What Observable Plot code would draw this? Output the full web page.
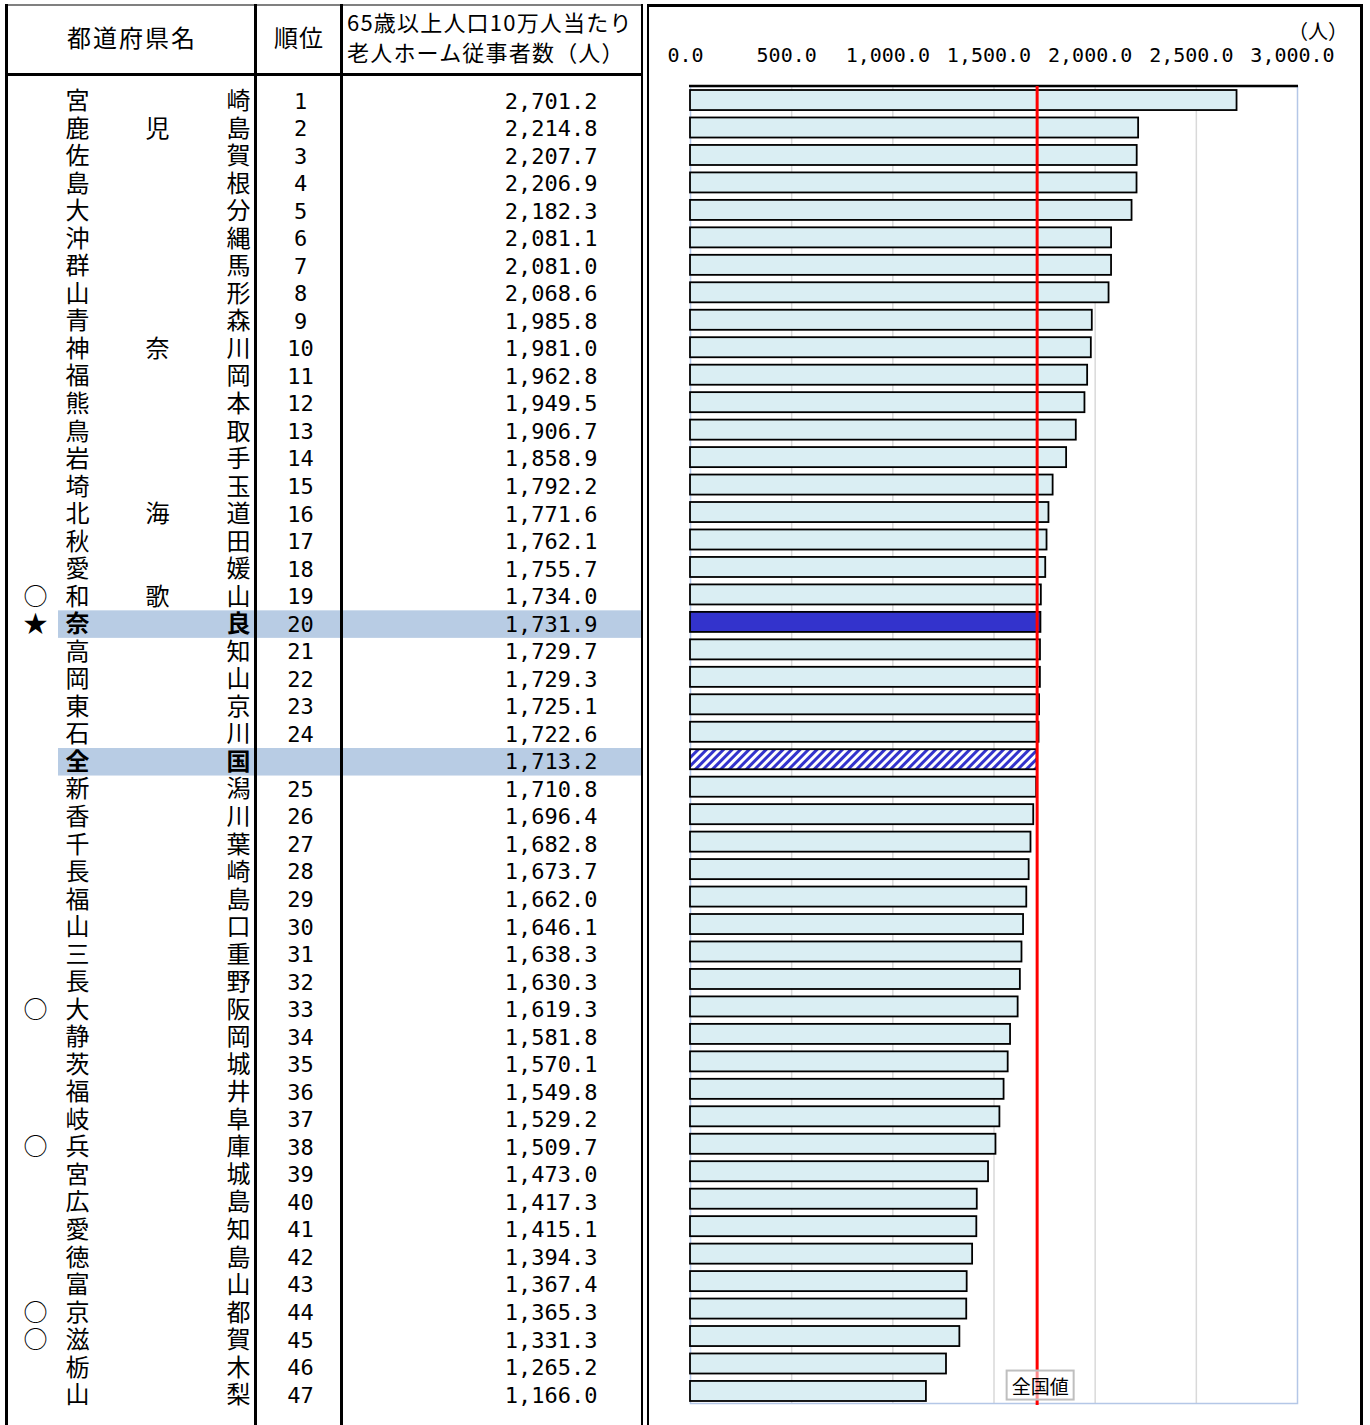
<!DOCTYPE html>
<html><head><meta charset="utf-8">
<script src="https://cdn.jsdelivr.net/npm/d3@7"></script>
<script src="https://cdn.jsdelivr.net/npm/@observablehq/plot@0.6"></script>
<style>
body{margin:0;background:#fff;}
#wrap{position:relative;width:1370px;height:1425px;overflow:hidden;font-family:"Noto Sans CJK JP",sans-serif;color:#000;}
#wrap > svg, #wrap > div{position:absolute;}
.ln{background:#000;z-index:5;}
.hd{line-height:1;white-space:nowrap;z-index:6;}
</style></head><body><div id="wrap"></div>
<script>
// ---- data ----
const prefectures = ["宮崎","鹿児島","佐賀","島根","大分","沖縄","群馬","山形","青森","神奈川","福岡","熊本","鳥取","岩手","埼玉","北海道","秋田","愛媛","和歌山","奈良","高知","岡山","東京","石川","全国","新潟","香川","千葉","長崎","福島","山口","三重","長野","大阪","静岡","茨城","福井","岐阜","兵庫","宮城","広島","愛知","徳島","富山","京都","滋賀","栃木","山梨"];
const values = [2701.2,2214.8,2207.7,2206.9,2182.3,2081.1,2081.0,2068.6,1985.8,1981.0,1962.8,1949.5,1906.7,1858.9,1792.2,1771.6,1762.1,1755.7,1734.0,1731.9,1729.7,1729.3,1725.1,1722.6,1713.2,1710.8,1696.4,1682.8,1673.7,1662.0,1646.1,1638.3,1630.3,1619.3,1581.8,1570.1,1549.8,1529.2,1509.7,1473.0,1417.3,1415.1,1394.3,1367.4,1365.3,1331.3,1265.2,1166.0];
const ranks = [1,2,3,4,5,6,7,8,9,10,11,12,13,14,15,16,17,18,19,20,21,22,23,24,null,25,26,27,28,29,30,31,32,33,34,35,36,37,38,39,40,41,42,43,44,45,46,47];
const symbols = ["","","","","","","","","","","","","","","","","","","○","★","","","","","","","","","","","","","","○","","","","","○","","","","","","○","○","",""];
const xTicks = [0,500,1000,1500,2000,2500,3000];
const gridTicks = [500,1000,1500,2000,2500];
const focusName = "奈良";
const nationalName = "全国";
const nationalLabel = "全国値";

// ---- layout (pixel positions of table columns) ----
const colX = {sym:35, c1:77, c2:157, c3:238, rank:300, val:597, hlL:58, hlR:642};
const fmt = d3.format(",.1f");
const JP = '"Noto Sans CJK JP", sans-serif';
const MONO = '"DejaVu Sans Mono", monospace';

const rows = prefectures.map((name, i) => ({name, value: values[i], rank: ranks[i], symbol: symbols[i]}));
const isSpecial = r => r.name === focusName || r.name === nationalName;
const charRows = rows.flatMap(r => {
  const ch = [...r.name];
  const cols = ch.length === 3 ? ["c1","c2","c3"] : ["c1","c3"];
  return ch.map((c, j) => ({name: r.name, char: c, col: cols[j], bold: isSpecial(r)}));
});

const wrap = document.getElementById("wrap");

// ---- table ----
const table = Plot.plot({
  width: 642, height: 1425, margin: 0,
  x: {type: "identity", axis: null},
  y: {type: "band", domain: prefectures, range: [87.2, 1408.8], padding: 0, round: false, axis: null},
  style: {background: "transparent", fontFamily: JP, overflow: "visible"},
  marks: [
    Plot.barX(rows.filter(isSpecial), {x1: () => colX.hlL, x2: () => colX.hlR, y: "name", fill: "#b8cce4"}),
    Plot.text(charRows.filter(d => !d.bold), {x: d => colX[d.col], y: "name", text: "char", fontSize: 24, fontFamily: JP, fill: "#000"}),
    Plot.text(charRows.filter(d => d.bold), {x: d => colX[d.col], y: "name", text: "char", fontSize: 24, fontFamily: JP, fontWeight: "bold", fill: "#000"}),
    Plot.text(rows.filter(r => r.symbol), {x: () => colX.sym, y: "name", text: "symbol", fontSize: 24, fontFamily: JP, fill: "#000"}),
    Plot.text(rows.filter(r => r.rank != null), {x: () => colX.rank, y: "name", text: d => String(d.rank), fontSize: 22, fontFamily: MONO, fill: "#000"}),
    Plot.text(rows, {x: () => colX.val, y: "name", text: d => fmt(d.value), textAnchor: "end", fontSize: 22, fontFamily: MONO, fill: "#000"})
  ]
});
table.style.left = "0px"; table.style.top = "0px";
wrap.appendChild(table);

// ---- bar chart ----
const national = rows.find(r => r.name === nationalName);
const lastName = prefectures[prefectures.length - 1];
function extras(index, scales, values, dims) {
  const ns = "http://www.w3.org/2000/svg";
  const g = document.createElementNS(ns, "g");
  g.innerHTML = `<defs><pattern id="hatch" patternUnits="userSpaceOnUse" width="6" height="6" patternTransform="rotate(45)"><rect width="6" height="6" fill="#fff"/><rect width="3" height="6" fill="#3333cc"/></pattern></defs>`;
  const l = document.createElementNS(ns, "line");
  l.setAttribute("x1", scales.x(xTicks[0]) - 1);
  l.setAttribute("x2", scales.x(xTicks[xTicks.length - 1]) + 1);
  l.setAttribute("y1", dims.marginTop);
  l.setAttribute("y2", dims.marginTop);
  l.setAttribute("stroke", "#000");
  l.setAttribute("stroke-width", 2.5);
  g.appendChild(l);
  return g;
}
const chart = Plot.plot({
  width: 714, height: 1425, marginLeft: 42, marginRight: 65, marginTop: 86, marginBottom: 22,
  x: {domain: [0, 3000], axis: null},
  y: {type: "band", domain: prefectures, range: [86.3, 1404.7], paddingInner: 0.27, paddingOuter: 0.135, round: false, axis: null},
  style: {background: "transparent", fontFamily: JP, overflow: "visible"},
  marks: [
    Plot.ruleX(gridTicks, {stroke: "#d9d9d9", strokeWidth: 1.5}),
    Plot.frame({stroke: "#b4c7e7", strokeWidth: 1.5}),
    Plot.axisX(xTicks, {anchor: "top", tickSize: 0, tickPadding: 25, tickFormat: fmt, fontSize: 20, fontFamily: MONO, fill: "#000", dx: -5, label: null}),
    extras,
    Plot.barX(rows.filter(r => !isSpecial(r)), {x: "value", y: "name", fill: "#daeef3", stroke: "#000", strokeWidth: 1.8}),
    Plot.barX(rows.filter(r => r.name === focusName), {x: "value", y: "name", fill: "#3333cc", stroke: "#000", strokeWidth: 1.8}),
    Plot.barX(rows.filter(r => r.name === nationalName), {x: "value", y: "name", fill: "url(#hatch)", stroke: "#000", strokeWidth: 1.8}),
    Plot.ruleX([national], {x: "value", stroke: "#ff0000", strokeWidth: 3, insetBottom: -2}),
    Plot.text([national], {x: "value", y: () => lastName, text: () => nationalLabel, dx: 3, dy: -4, fontSize: 19, fontFamily: JP, fill: "#000"})
  ]
});
chart.style.left = "648px"; chart.style.top = "0px";
wrap.appendChild(chart);
// box behind the national label
for (const t of chart.querySelectorAll("text")) {
  if (t.textContent === nationalLabel) {
    const b = t.getBBox();
    const r = document.createElementNS("http://www.w3.org/2000/svg", "rect");
    r.setAttribute("x", b.x - 5); r.setAttribute("y", b.y - 1);
    r.setAttribute("width", b.width + 10); r.setAttribute("height", b.height + 2);
    const tr = t.getAttribute("transform");
    if (tr) r.setAttribute("transform", tr);
    r.setAttribute("fill", "rgba(255,255,255,0.55)");
    r.setAttribute("stroke", "#bfbfbf"); r.setAttribute("stroke-width", 2);
    t.parentNode.insertBefore(r, t);
  }
}

// ---- frame lines & header (HTML) ----
function line(l, t, w, h, c) {
  const d = document.createElement("div");
  d.className = "ln";
  Object.assign(d.style, {left: l + "px", top: t + "px", width: w + "px", height: h + "px"});
  if (c) d.style.background = c;
  wrap.appendChild(d);
}
line(5, 4, 638, 2, "#808080");
line(647, 4, 716, 3);
line(5, 4, 3, 1421);
line(5, 73, 638, 3);
line(254, 4, 3, 1421);
line(340, 4, 3, 1421);
line(641, 4, 2, 1421);
line(647, 4, 2, 1421);
line(1360, 4, 3, 1421);

function hd(text, l, t, w, size, align, ls) {
  const d = document.createElement("div");
  d.className = "hd";
  d.textContent = text;
  Object.assign(d.style, {left: l + "px", top: t + "px", width: w + "px", fontSize: size + "px", textAlign: align, letterSpacing: (ls || 0) + "px"});
  wrap.appendChild(d);
}
hd("都道府県名", 8, 25, 248, 24, "center", 2);
hd("順位", 257, 25, 84, 24, "center", 1);
hd("65歳以上人口10万人当たり", 347, 10, 300, 22, "left", 1.2);
hd("老人ホーム従事者数（人）", 347, 40, 300, 22, "left", 1.2);
hd("（人）", 1288, 21, 60, 20, "left", 0);
</script></body></html>
